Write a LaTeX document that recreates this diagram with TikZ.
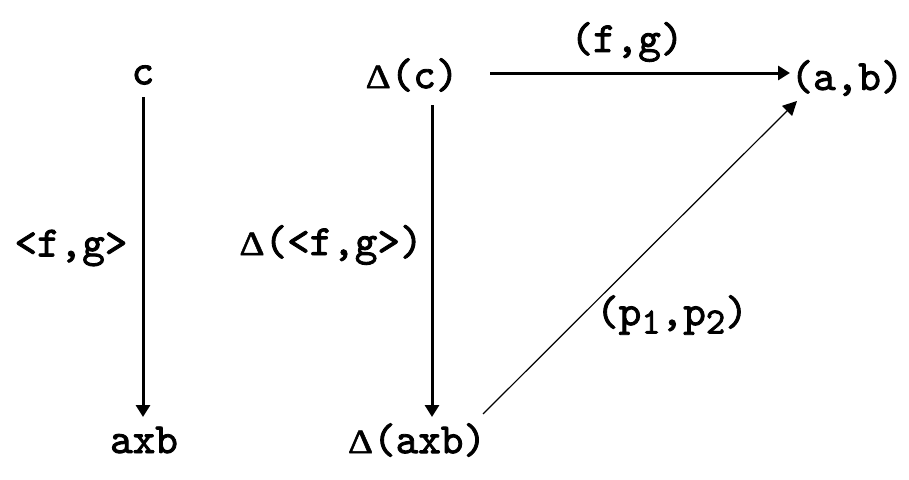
\documentclass[tikz,border=0pt]{standalone}
\usepackage{fontspec}
\newfontfamily\mono[FakeBold=2]{lmmono10-regular.otf}
\newfontfamily\gk[FakeBold=1.5,FakeStretch=1.15]{Liberation Serif}
\usetikzlibrary{arrows.meta}
\newcommand{\dlt}{{\fontsize{34}{40}\gk Δ}}
\begin{document}
\begin{tikzpicture}[x=1pt,y=-1pt,
  lbl/.style={inner sep=0pt,font=\fontsize{43}{46}\mono},
  arr/.style={line width=3pt,-{Triangle[length=12pt,width=14pt]}},
  thinarr/.style={line width=1.2pt,-{Triangle[length=14pt,width=14pt]}}]
\useasboundingbox[fill=white] (0,0) rectangle (909,479);
\node[lbl] (c) at (143,75) {c};
\node[lbl] (axb) at (144,440) {axb};
\node[lbl] (fg1) at (71,248) {<f,g>};
\node[lbl] (dc) at (412,75) {\dlt(c)};
\node[lbl] (dfg) at (331,245) {\dlt(<f,g>)};
\node[lbl] (daxb) at (417,440) {\dlt(axb)};
\node[lbl] (ab) at (847,78) {(a,b)};
\node[lbl] (fg2) at (627,42) {(f,g)};
\node[lbl] (p) at (672,315) {(p\raisebox{-0.45ex}{\fontsize{37}{40}\mono 1},p\raisebox{-0.45ex}{\fontsize{37}{40}\mono 2})};
\coordinate (s1) at (143,97);
\coordinate (e1) at (143,417);
\coordinate (s2) at (432,105);
\coordinate (e2) at (432,417);
\coordinate (s3) at (490,73);
\coordinate (e3) at (790,73);
\coordinate (s4) at (483,414);
\coordinate (e4) at (797,101);
\draw[arr] (s1) -- (e1);
\draw[arr] (s2) -- (e2);
\draw[arr] (s3) -- (e3);
\draw[thinarr] (s4) -- (e4);
\end{tikzpicture}
\end{document}
